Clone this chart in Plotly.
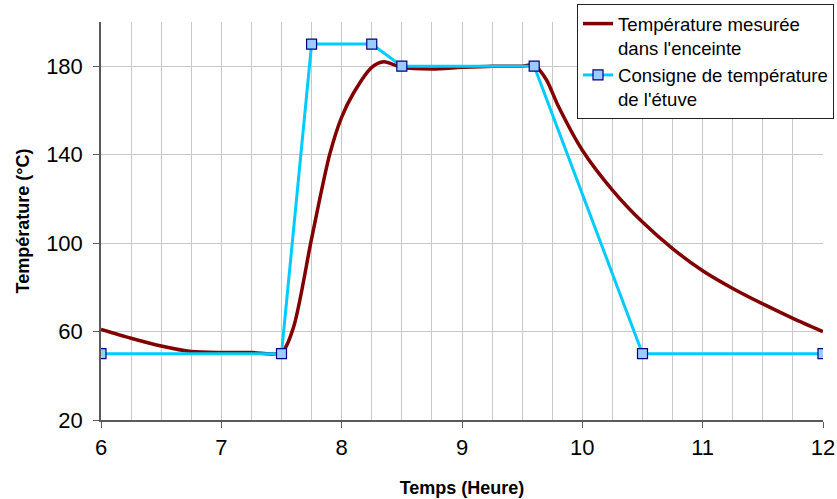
import plotly.graph_objects as go

mesure_t = [6.0, 6.25, 6.5, 6.75, 7.0, 7.25, 7.5, 7.6, 7.75, 7.9, 8.0, 8.1, 8.25, 8.35,
            8.5, 8.75, 9.0, 9.25, 9.5, 9.6, 9.7, 9.8, 10.0, 10.25, 10.5, 10.75, 11.0,
            11.25, 11.5, 11.75, 12.0]
mesure_v = [61, 57, 53.5, 51, 50.5, 50.5, 50.5, 62, 102, 140, 157, 168, 179.5, 182,
            179.5, 178.8, 179.5, 180, 180, 180.5, 174, 162, 142, 124, 109.5, 97.5, 87.5,
            79.5, 72.5, 66, 60]

# Oven set point
consigne_t = [6, 7.5, 7.75, 8.25, 8.5, 9.6, 10.5, 12]
consigne_v = [50, 50, 190, 190, 180, 180, 50, 50]

x_ticks = [6, 7, 8, 9, 10, 11, 12]
y_ticks = [20, 60, 100, 140, 180]

fig = go.Figure()
fig.add_trace(go.Scatter(
    x=mesure_t, y=mesure_v, mode="lines",
    line=dict(color="#800000", width=3.5, shape="spline", smoothing=0.8),
    name="Température mesurée<br>dans l'enceinte"))
fig.add_trace(go.Scatter(
    x=consigne_t, y=consigne_v, mode="lines+markers",
    line=dict(color="#00CCFF", width=3),
    marker=dict(symbol="square", size=10, color="#99CCFF",
                line=dict(color="#000080", width=1.2)),
    name="Consigne de température<br>de l'étuve"))

grid = "#C8C8C8"
axis_col = "#5A5A5A"
fig.update_layout(
    width=837, height=499,
    margin=dict(l=101, r=0, t=4, b=79),
    paper_bgcolor="white", plot_bgcolor="white",
    font=dict(family="Liberation Sans, Arial, sans-serif", color="black"),
    showlegend=True,
    legend=dict(x=476 / 736, y=1.0, xanchor="left", yanchor="top",
                bgcolor="white", bordercolor="#222222", borderwidth=1,
                font=dict(size=18.6), tracegroupgap=0, itemwidth=30, valign="top"),
    xaxis=dict(domain=[0, 722 / 736], range=[6, 12],
               tickvals=x_ticks, ticktext=[str(v) for v in x_ticks],
               showgrid=True, gridcolor=grid, gridwidth=1,
               minor=dict(dtick=0.25, tick0=6, showgrid=True, gridcolor=grid, gridwidth=1),
               showline=True, linecolor=axis_col, linewidth=1.5,
               ticks="outside", ticklen=6, tickcolor=axis_col,
               ticklabelstandoff=1,
               tickfont=dict(size=22), zeroline=False, automargin=False,
               title=dict(text="<b>Temps (Heure)</b>", font=dict(size=18), standoff=22)),
    yaxis=dict(domain=[0, 398 / 416], range=[20, 200],
               tickvals=y_ticks, ticktext=[str(v) for v in y_ticks],
               showgrid=True, gridcolor=grid, gridwidth=1,
               showline=True, linecolor=axis_col, linewidth=1.5,
               ticks="outside", ticklen=6, tickcolor=axis_col,
               ticklabelstandoff=6,
               tickfont=dict(size=22), zeroline=False, automargin=False,
               title=dict(text="<b>Température (°C)</b>", font=dict(size=18), standoff=12)),
)
fig.write_html("out.html", config={"displayModeBar": False},
               post_script="document.body.style.margin='0px';document.body.style.overflow='hidden';")
